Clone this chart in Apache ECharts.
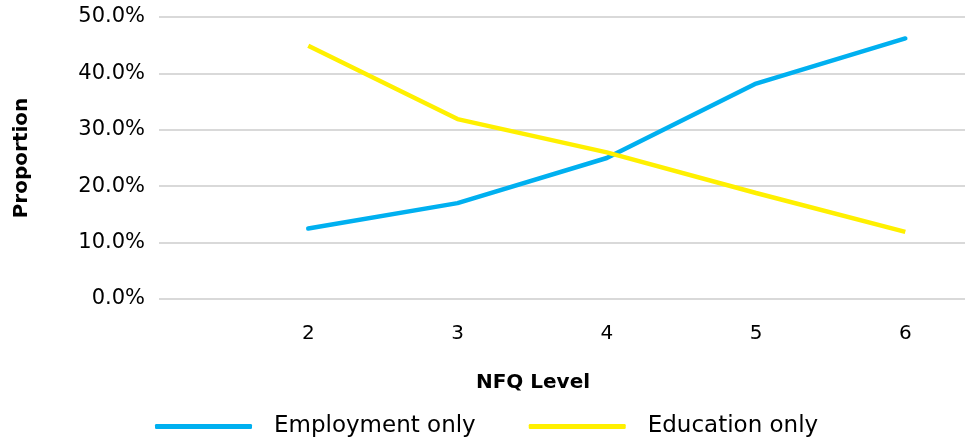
<!DOCTYPE html>
<html>
<head>
<meta charset="utf-8">
<script src="https://cdn.jsdelivr.net/npm/echarts@6/dist/echarts.min.js"></script>
<style>
  html, body { margin: 0; padding: 0; background: #fff; }
  #myCharts { width: 968px; height: 446px; }
</style>
</head>
<body>
<div id="myCharts"></div>
<script>
// NFQ levels on the x axis
var levels = [2, 3, 4, 5, 6]
// proportions in percent
var employmentOnly = [12.5, 17.0, 25.0, 38.2, 46.2]
var educationOnly = [44.9, 31.9, 26.0, 18.8, 11.9]
var yTicks = [0, 10, 20, 30, 40, 50]

var font = 'DejaVu Sans'

function pairs (vals) {
  return levels.map(function (lv, i) { return [lv, vals[i]] })
}

var myCharts = echarts.init(document.getElementById('myCharts'))
var option = {
  animation: false,
  textStyle: { fontFamily: font, color: '#000' },
  grid: {
    left: 159,
    right: -1,
    top: 17,
    bottom: 147
  },
  legend: {
    left: 150,
    bottom: 3,
    icon: 'roundRect',
    itemWidth: 97,
    itemHeight: 5,
    itemGap: 53,
    textStyle: { fontFamily: font, fontSize: 23, color: '#000', padding: [0, 0, 0, 17] },
    data: ['Employment only', 'Education only']
  },
  xAxis: {
    type: 'value',
    min: 1,
    max: 6.4,
    interval: 1,
    name: 'NFQ Level',
    nameLocation: 'middle',
    nameGap: 74,
    nameTextStyle: { fontFamily: font, fontSize: 20, fontWeight: 'bold', color: '#000', padding: [0, 58, 0, 0] },
    axisLine: { show: false },
    axisTick: { show: false },
    splitLine: { show: false },
    axisLabel: {
      margin: 25,
      fontSize: 20,
      color: '#000',
      formatter: function (v) {
        return levels.indexOf(v) >= 0 ? String(v) : ''
      }
    }
  },
  yAxis: {
    type: 'value',
    min: yTicks[0],
    max: yTicks[yTicks.length - 1],
    interval: 10,
    name: 'Proportion',
    nameLocation: 'middle',
    nameGap: 127,
    nameRotate: 90,
    nameTextStyle: { fontFamily: font, fontSize: 20, fontWeight: 'bold', color: '#000' },
    axisLine: { show: false },
    axisTick: { show: false },
    splitLine: { lineStyle: { color: '#d9d9d9', width: 2 } },
    axisLabel: {
      margin: 14,
      fontSize: 21,
      color: '#000',
      formatter: function (v) { return v.toFixed(1) + '%' }
    }
  },
  series: [
    {
      name: 'Employment only',
      type: 'line',
      showSymbol: false,
      symbol: 'none',
      color: '#00b0f0',
      lineStyle: { width: 4.5, color: '#00b0f0', cap: 'round' },
      data: pairs(employmentOnly)
    },
    {
      name: 'Education only',
      type: 'line',
      showSymbol: false,
      symbol: 'none',
      color: '#fff000',
      lineStyle: { width: 4.5, color: '#fff000' },
      data: pairs(educationOnly)
    }
  ]
}
myCharts.setOption(option)
</script>
</body>
</html>
